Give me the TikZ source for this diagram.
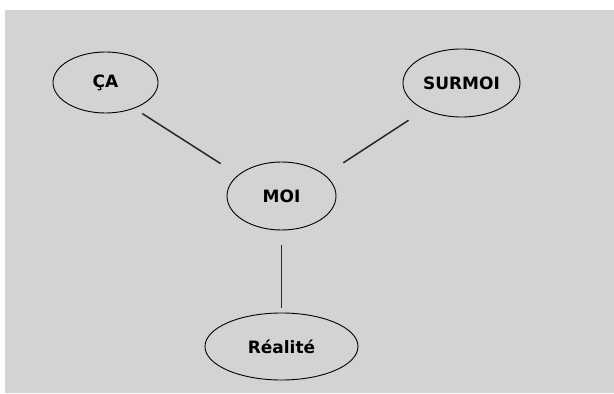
\documentclass[tikz,border=0pt]{standalone}
\usepackage{fontspec}
\setmainfont{DejaVu Sans}
\definecolor{psygray}{RGB}{211,211,211}
\definecolor{psyline}{RGB}{40,40,40}
\usetikzlibrary{shapes.geometric}

\begin{document}
\begin{tikzpicture}[x=1pt, y=1pt,
  instance/.style={draw=black, line width=0.9pt, ellipse, inner sep=0pt,
    font=\bfseries\fontsize{17}{20}\selectfont},
  liaison/.style={draw=psyline, line width=1.5pt}]

\useasboundingbox (0,0) rectangle (614,394);
\fill[white] (0,0) rectangle (614,394);
\fill[psygray] (5,1) rectangle (614,384);

\node[instance, minimum width=105, minimum height=61] (ca) at (105.5,311.5) {ÇA};
\node[instance, minimum width=117, minimum height=68] (surmoi) at (461.5,311) {SURMOI};
\node[instance, minimum width=109, minimum height=68] (moi) at (281.5,198) {MOI};
\node[instance, minimum width=153, minimum height=67] (realite) at (281.5,47.5) {Réalité};

\draw[liaison, shorten <=9.5pt, shorten >=20.8pt] (ca.-42) -- (moi.154);
\draw[liaison, shorten <=19pt, shorten >=22pt] (surmoi.-144) -- (moi.26);
\draw[liaison, shorten <=15pt, shorten >=5pt] (moi.south) -- (realite.north);

\end{tikzpicture}
\end{document}
